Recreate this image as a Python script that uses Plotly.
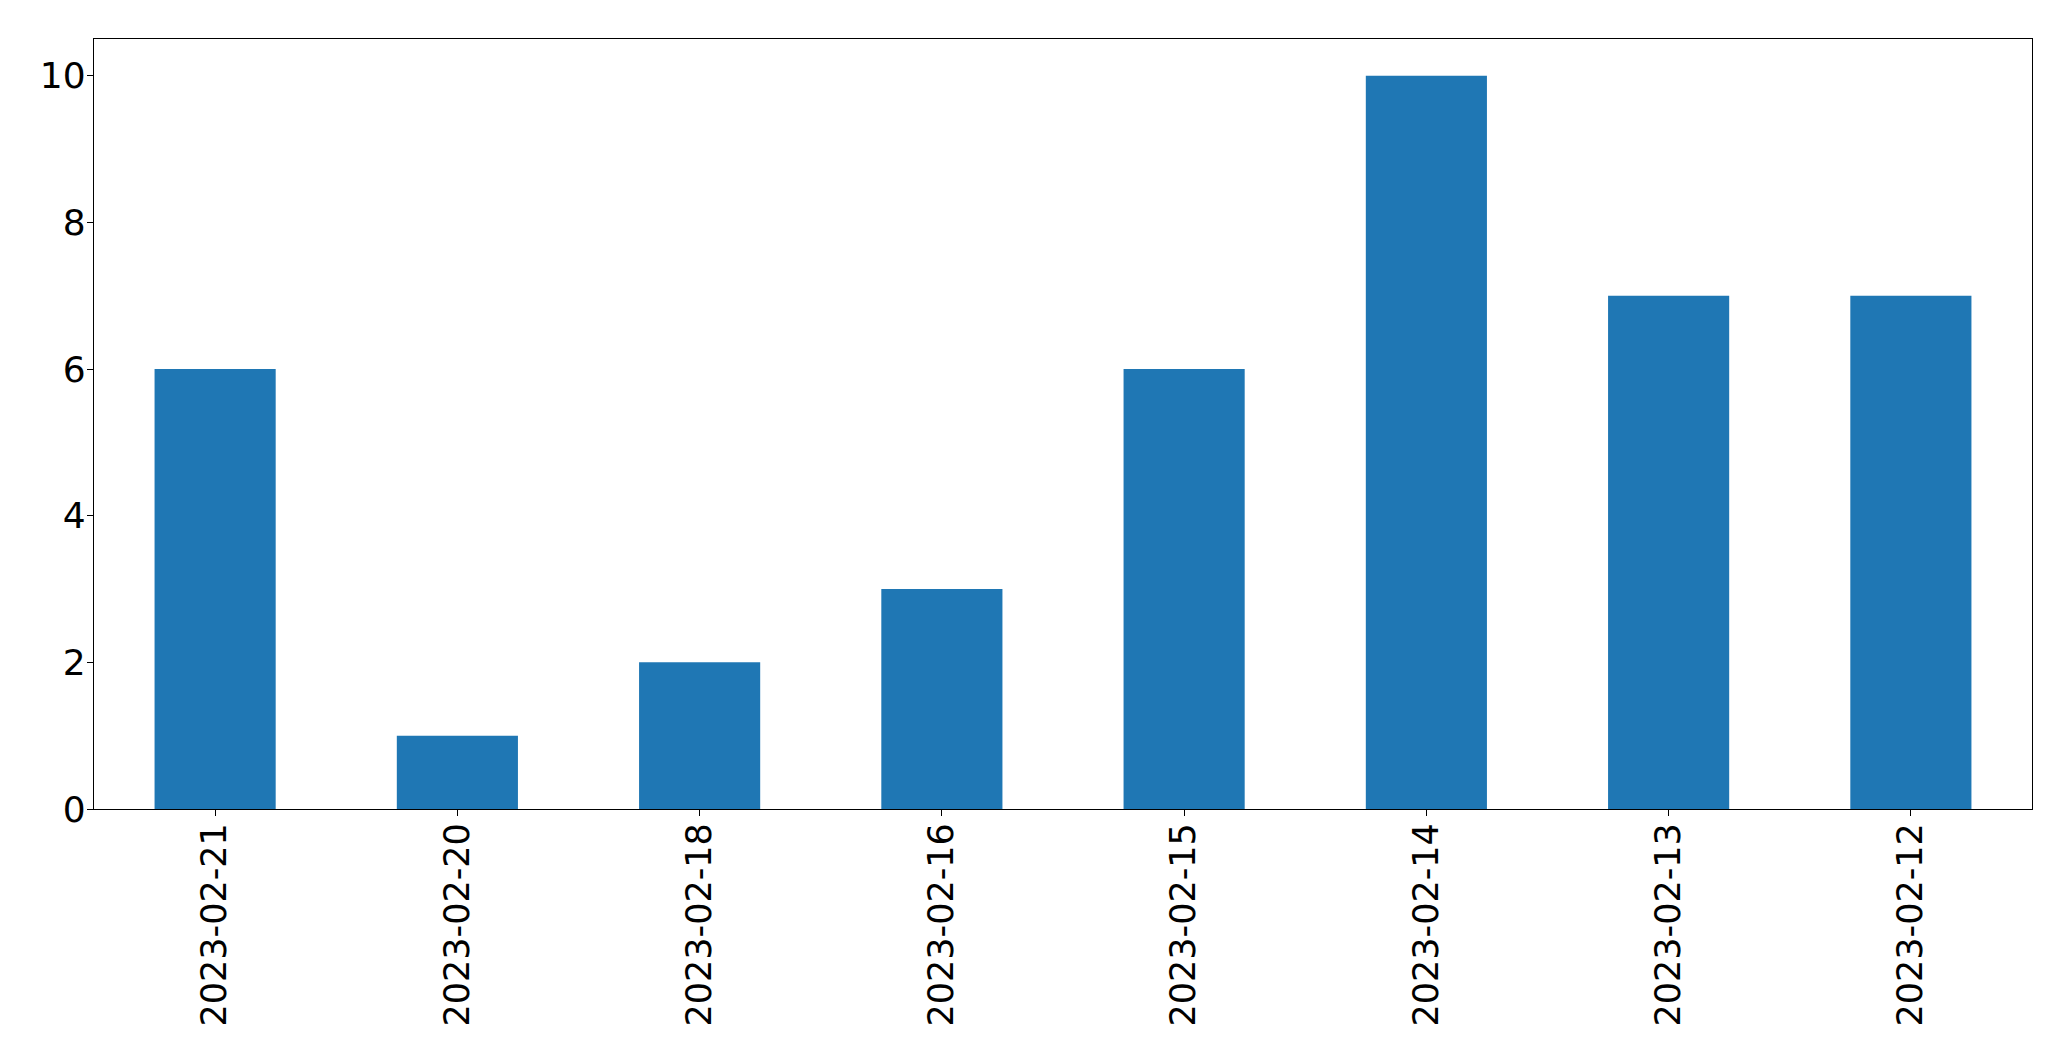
import plotly.graph_objects as go

categories = ["2023-02-21", "2023-02-20", "2023-02-18", "2023-02-16",
              "2023-02-15", "2023-02-14", "2023-02-13", "2023-02-12"]
values = [6, 1, 2, 3, 6, 10, 7, 7]
y_ticks = [0, 2, 4, 6, 8, 10]

fig = go.Figure(go.Bar(x=categories, y=values, marker_color="#1f77b4",
                       marker_line_width=0, width=0.5))

# page body adds an 8px offset, so the figure is sized/margined to compensate
fig.update_layout(
    width=2063, height=1053,
    margin=dict(l=86, r=39, t=31, b=252, autoexpand=False),
    plot_bgcolor="white", paper_bgcolor="white",
    font=dict(family="DejaVu Sans", size=36, color="black"),
    showlegend=False,
)
fig.update_xaxes(type="category", range=[-0.5, 7.5], tickangle=-90, automargin=False,
                 tickfont=dict(size=35), ticklabelstandoff=-7,
                 showline=True, linecolor="black", linewidth=1.3, mirror=True,
                 ticks="outside", ticklen=6, tickcolor="black", tickwidth=1.3,
                 showgrid=False, zeroline=False)
fig.update_yaxes(range=[0, 10.5], tickvals=y_ticks, automargin=False,
                 ticklabelstandoff=-6,
                 showline=True, linecolor="black", linewidth=1.3, mirror=True,
                 ticks="outside", ticklen=6, tickcolor="black", tickwidth=1.3,
                 showgrid=False, zeroline=False)

fig.write_html("out.html")
